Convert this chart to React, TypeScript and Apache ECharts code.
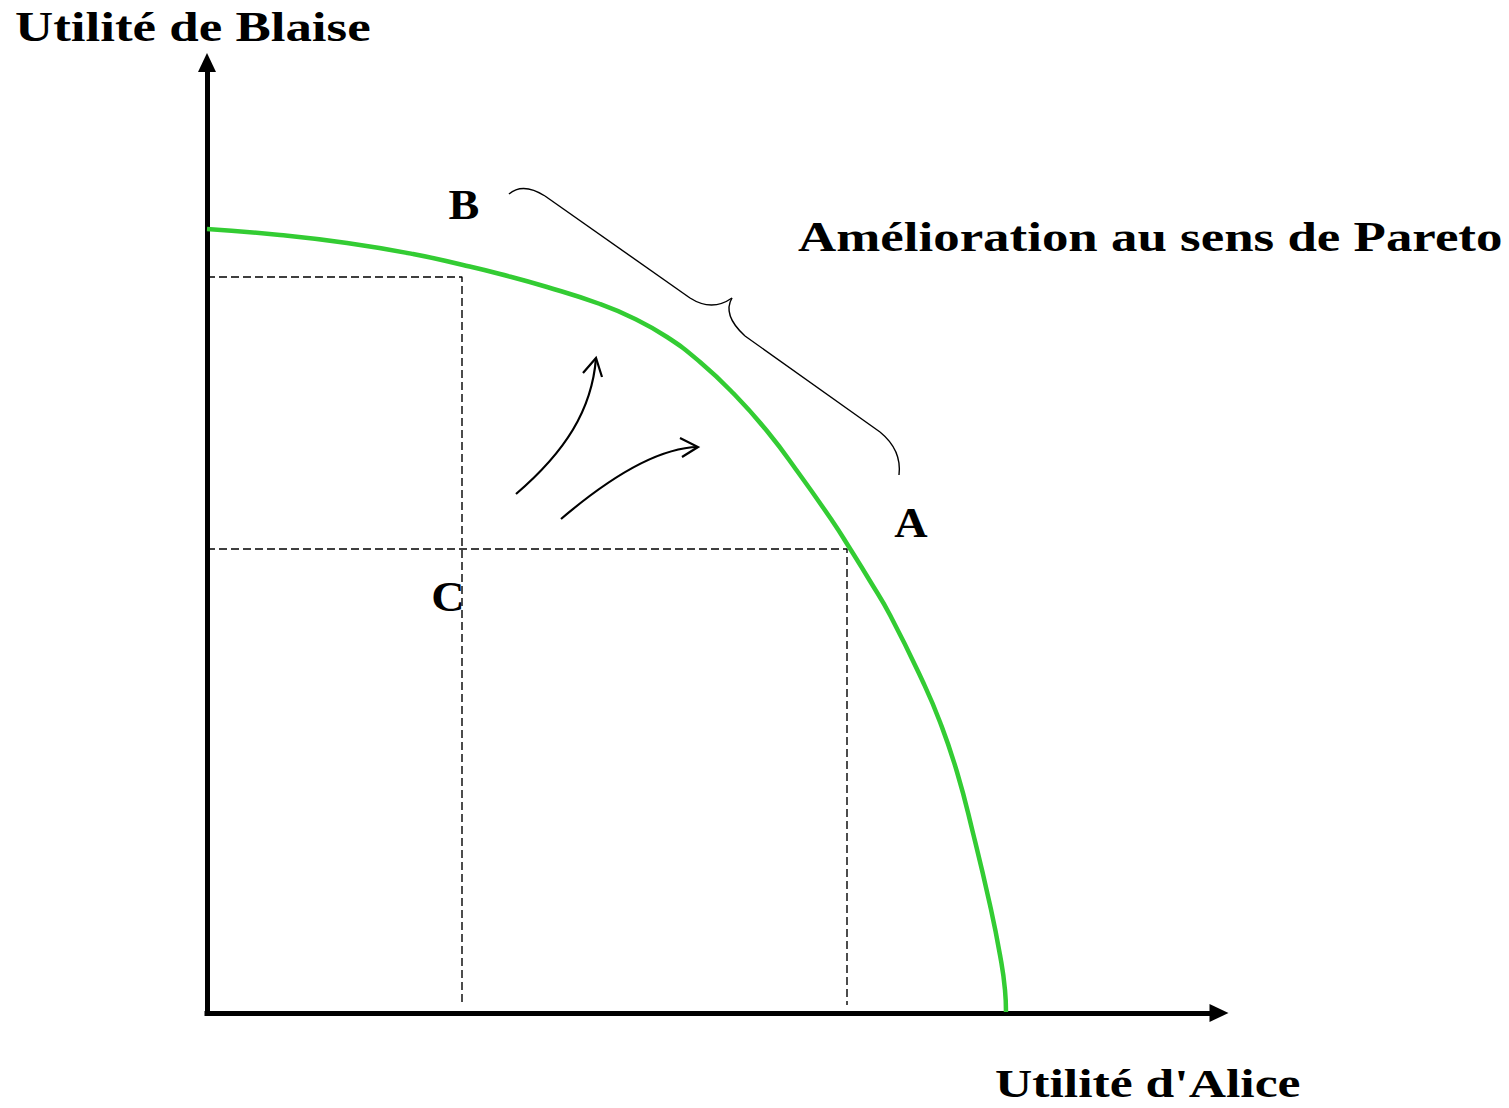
import React, { useEffect, useRef } from 'react';
import * as echarts from 'echarts';

// Utility possibilities frontier (units: Alice utility, Blaise utility)
const frontier: [number, number][] = [
  [0, 78.4], [7.3, 77.8], [14.0, 77.0], [20.6, 75.9], [25.6, 74.8], [29.3, 73.9],
  [34.0, 72.6], [39.3, 70.9], [42.6, 69.5], [46.0, 67.6], [49.3, 65.1], [52.6, 62.0],
  [56.0, 58.2], [59.3, 53.8], [62.6, 49.1], [64.2, 46.6], [66.3, 43.2], [68.3, 39.8],
  [71.6, 33.1], [73.3, 29.1], [75.0, 24.1], [76.6, 18.0], [78.3, 10.8], [79.3, 5.8],
  [79.8, 2.3], [79.9, 0.1],
];

// Dashed guide lines through B' and A
const dashB: [number, number][] = [[0, 73.6], [25.5, 73.6], [25.5, 0.8]];
const dashA: [number, number][] = [[0, 46.4], [64.0, 46.4], [64.0, 0.8]];

// Curly brace segments: 'q' = [start, ctrl, end], 'l' = [start, end]
const braceSegments: { kind: 'q' | 'l'; pts: [number, number][] }[] = [
  { kind: 'q', pts: [[30.2, 81.9], [31.6, 83.1], [33.8, 81.7]] },
  { kind: 'l', pts: [[33.8, 81.7], [48.3, 71.5]] },
  { kind: 'q', pts: [[48.3, 71.5], [50.5, 70.1], [52.5, 71.5]] },
  { kind: 'q', pts: [[52.5, 71.5], [51.5, 69.8], [53.8, 67.7]] },
  { kind: 'l', pts: [[53.8, 67.7], [67.3, 58.1]] },
  { kind: 'q', pts: [[67.3, 58.1], [69.5, 56.3], [69.2, 53.8]] },
];

// Curved arrows: cubic [p0, c1, c2, tip] and chevron arms
const arrowCurves: [number, number][][] = [
  [[30.9, 51.9], [35.8, 56.1], [38.5, 60.3], [38.9, 65.5]],
  [[35.4, 49.4], [38.8, 52.3], [44.3, 56.5], [49.1, 56.6]],
];
const arrowHeads: [number, number][][] = [
  [[37.6, 64.0], [38.9, 65.5], [39.5, 63.6]],
  [[47.3, 57.5], [49.1, 56.6], [47.5, 55.6]],
];

const labels = [
  { text: 'Utilité de Blaise', x: 15, y: 26, align: 'left', size: 42 },
  { text: 'Amélioration au sens de Pareto', x: 798, y: 236, align: 'left', size: 42 },
  { text: "Utilité d'Alice", x: 995, y: 1083, align: 'left', size: 41 },
  { text: 'B', x: 464, y: 205, align: 'center', size: 42 },
  { text: 'A', x: 911, y: 523, align: 'center', size: 42 },
  { text: 'C', x: 448, y: 597, align: 'center', size: 42 },
];

const FONT_FAMILY = '"Liberation Serif", "Times New Roman", serif';

export default function App() {
  const ref = useRef<HTMLDivElement>(null);
  useEffect(() => {
    document.body.style.margin = '0';
    if (!ref.current) return;
    const chart = echarts.init(ref.current, null, { renderer: 'svg' });
    const axisCommon = {
      type: 'value' as const,
      min: 0,
      axisTick: { show: false },
      axisLabel: { show: false },
      splitLine: { show: false },
      axisLine: {
        show: true,
        symbol: ['none', 'triangle'],
        symbolSize: [18, 19],
        lineStyle: { color: '#000', width: 5, cap: 'square' },
      },
    };
    chart.setOption({
      animation: false,
      backgroundColor: '#fff',
      grid: { left: 207, top: 62.5, width: 1012, height: 950.5, containLabel: false },
      xAxis: { ...axisCommon, max: 101.2 },
      yAxis: { ...axisCommon, max: 95.05 },
      series: [
        {
          type: 'line', data: dashB, symbol: 'none', silent: true,
          lineStyle: { color: '#000', width: 1.4, type: [8, 4] }, z: 2,
        },
        {
          type: 'line', data: dashA, symbol: 'none', silent: true,
          lineStyle: { color: '#000', width: 1.4, type: [8, 4] }, z: 2,
        },
        {
          type: 'line', data: frontier, symbol: 'none', smooth: true, silent: true,
          lineStyle: { color: '#33cc33', width: 4.5 }, z: 3,
        },
        {
          type: 'custom', data: [[0, 0]], silent: true, z: 4,
          renderItem: (_params: any, api: any) => {
            const c = (p: [number, number]) => api.coord(p);
            const st = { stroke: '#000', fill: 'none', lineWidth: 1.4 };
            const children: any[] = [];
            braceSegments.forEach((s) => {
              if (s.kind === 'l') {
                const a = c(s.pts[0]); const b = c(s.pts[1]);
                children.push({ type: 'line', shape: { x1: a[0], y1: a[1], x2: b[0], y2: b[1] }, style: st });
              } else {
                const a = c(s.pts[0]); const k = c(s.pts[1]); const b = c(s.pts[2]);
                children.push({ type: 'bezierCurve', shape: { x1: a[0], y1: a[1], cpx1: k[0], cpy1: k[1], x2: b[0], y2: b[1] }, style: st });
              }
            });
            arrowCurves.forEach((pts) => {
              const [a, k1, k2, b] = pts.map(c);
              children.push({ type: 'bezierCurve', shape: { x1: a[0], y1: a[1], cpx1: k1[0], cpy1: k1[1], cpx2: k2[0], cpy2: k2[1], x2: b[0], y2: b[1] }, style: { ...st, lineWidth: 2.2 } });
            });
            arrowHeads.forEach((pts) => {
              children.push({ type: 'polyline', shape: { points: pts.map(c) }, style: { ...st, lineWidth: 2.2 } });
            });
            return { type: 'group', children };
          },
        },
      ],
      graphic: labels.map((l) => ({
        type: 'text',
        x: l.x,
        y: l.y,
        scaleX: l.text.length > 1 ? 1.26 : 1.1,
        style: {
          text: l.text,
          font: `bold ${l.size}px ${FONT_FAMILY}`,
          fill: '#000',
          textAlign: l.align,
          textVerticalAlign: 'middle',
        },
      })),
    });
    return () => chart.dispose();
  }, []);
  return <div ref={ref} style={{ width: 1509, height: 1108 }} />;
}
